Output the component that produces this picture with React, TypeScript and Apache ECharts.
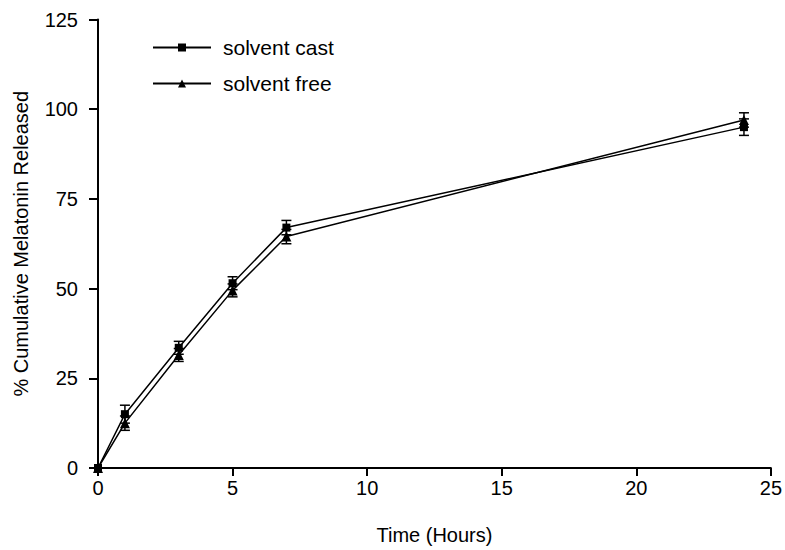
import React, { useEffect, useRef } from "react";
import * as echarts from "echarts";

const timePoints = [0, 1, 3, 5, 7, 24];
const solventCast = [0, 15, 33.5, 51.5, 67, 95];
const solventCastErr = [0, 2.5, 1.8, 1.8, 2, 2.3];
const solventFree = [0, 12.5, 31.5, 49.5, 64.5, 97];
const solventFreeErr = [0, 2, 1.8, 1.8, 2, 2];
const xTicks = [0, 5, 10, 15, 20, 25];
const yTicks = [0, 25, 50, 75, 100, 125];

const FONT = "'Liberation Sans', Arial, Helvetica, sans-serif";

function errorSeries(name: string, vals: number[], errs: number[]) {
  const data = timePoints.map((t, i) => [t, vals[i] - errs[i], vals[i] + errs[i]]);
  return {
    type: "custom",
    name: name + " err",
    silent: true,
    z: 3,
    renderItem: (params: any, api: any) => {
      const x = api.value(0);
      const lo = api.coord([x, api.value(1)]);
      const hi = api.coord([x, api.value(2)]);
      const cap = 5;
      const style = { stroke: "#000", lineWidth: 1.5 };
      return {
        type: "group",
        children: [
          { type: "line", shape: { x1: lo[0], y1: lo[1], x2: hi[0], y2: hi[1] }, style },
          { type: "line", shape: { x1: lo[0] - cap, y1: lo[1], x2: lo[0] + cap, y2: lo[1] }, style },
          { type: "line", shape: { x1: hi[0] - cap, y1: hi[1], x2: hi[0] + cap, y2: hi[1] }, style },
        ],
      };
    },
    data,
  };
}

export default function App() {
  const ref = useRef<HTMLDivElement>(null);
  useEffect(() => {
    if (!ref.current) return;
    const chart = echarts.init(ref.current, null, { renderer: "svg" });
    chart.setOption({
      animation: false,
      backgroundColor: "#fff",
      textStyle: { fontFamily: FONT, color: "#000" },
      grid: { left: 98, right: 14, top: 19.5, bottom: 79.5, containLabel: false },
      legend: {
        orient: "vertical",
        left: 152,
        top: 37,
        padding: 0,
        itemWidth: 58,
        itemHeight: 10,
        itemGap: 15,
        data: ["solvent cast", "solvent free"],
        textStyle: { fontFamily: FONT, fontSize: 21, color: "#000", padding: [0, 0, 0, 7] },
      },
      xAxis: {
        type: "value",
        min: 0,
        max: 25,
        interval: 5,
        name: "Time (Hours)",
        nameLocation: "middle",
        nameGap: 57,
        nameTextStyle: { fontFamily: FONT, fontSize: 20, color: "#000" },
        axisLine: { lineStyle: { color: "#000", width: 2 } },
        axisTick: { show: true, length: 8, lineStyle: { color: "#000", width: 2 } },
        axisLabel: { fontFamily: FONT, fontSize: 20, color: "#000", margin: 10, formatter: (v: number) => (xTicks.includes(v) ? String(v) : "") },
        splitLine: { show: false },
      },
      yAxis: {
        type: "value",
        min: 0,
        max: 125,
        interval: 25,
        name: "% Cumulative Melatonin Released",
        nameLocation: "middle",
        nameGap: 67,
        nameTextStyle: { fontFamily: FONT, fontSize: 20, color: "#000" },
        axisLine: { lineStyle: { color: "#000", width: 2 } },
        axisTick: { show: true, length: 9, lineStyle: { color: "#000", width: 2 } },
        axisLabel: { fontFamily: FONT, fontSize: 20, color: "#000", margin: 20, formatter: (v: number) => (yTicks.includes(v) ? String(v) : "") },
        splitLine: { show: false },
      },
      series: [
        {
          type: "line",
          name: "solvent cast",
          data: timePoints.map((t, i) => [t, solventCast[i]]),
          symbol: "rect",
          symbolSize: 8,
          itemStyle: { color: "#000" },
          lineStyle: { color: "#000", width: 1.5 },
          z: 4,
        },
        {
          type: "line",
          name: "solvent free",
          data: timePoints.map((t, i) => [t, solventFree[i]]),
          symbol: "triangle",
          symbolSize: 10,
          itemStyle: { color: "#000" },
          lineStyle: { color: "#000", width: 1.5 },
          z: 4,
        },
        errorSeries("solvent cast", solventCast, solventCastErr),
        errorSeries("solvent free", solventFree, solventFreeErr),
      ],
    });
    return () => chart.dispose();
  }, []);
  return <div ref={ref} style={{ width: 785, height: 550, position: "absolute", left: 0, top: 0 }} />;
}
